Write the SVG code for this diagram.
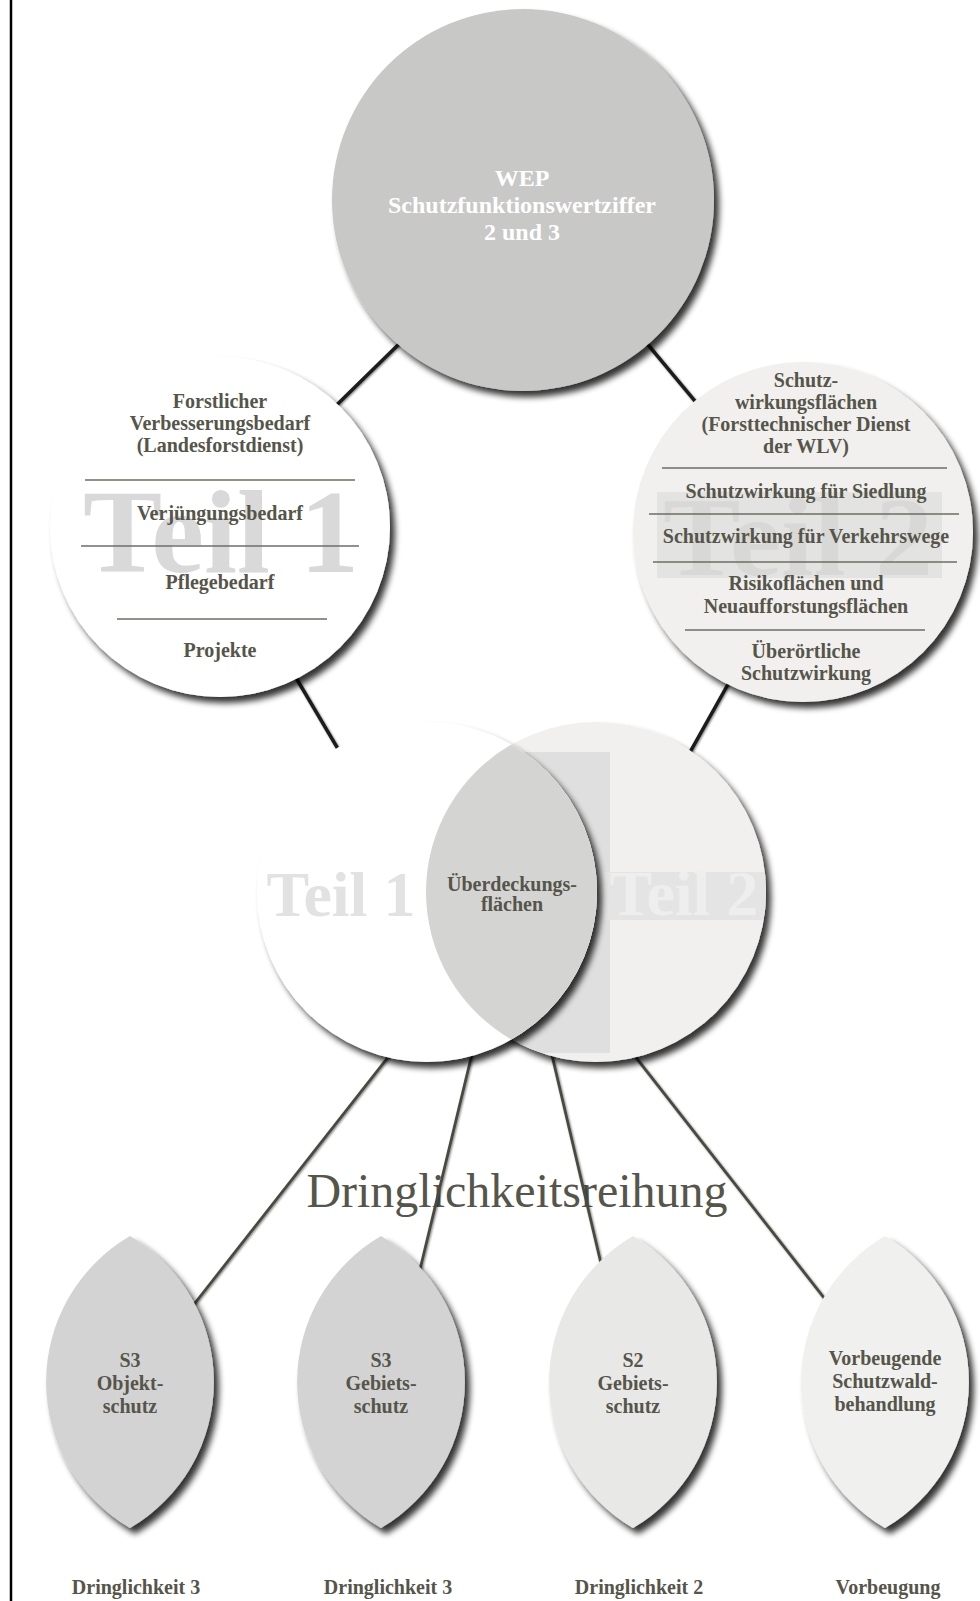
<svg xmlns="http://www.w3.org/2000/svg" width="980" height="1601" viewBox="0 0 980 1601">
<style>
.t{font-family:"Liberation Serif","Times New Roman",serif;font-weight:bold;font-size:20px;fill:#55554a;text-anchor:middle}
.w{fill:#ffffff;font-size:24px}
.wm{font-family:"Liberation Serif","Times New Roman",serif;font-weight:bold;text-anchor:middle}
.sep{stroke:#6e6e63;stroke-width:1.5}
.c1{stroke:#1c1c1c;stroke-width:3.5;stroke-linecap:round}
.c2{stroke:#4a4a40;stroke-width:2.8;stroke-linecap:round}
.big{font-family:"Liberation Serif","Times New Roman",serif;font-size:48px;fill:#55554a;text-anchor:middle}
</style>
<defs>
<filter id="sh" x="-20%" y="-20%" width="150%" height="150%">
<feGaussianBlur in="SourceAlpha" stdDeviation="3"/>
<feOffset dx="5" dy="6" result="b"/>
<feComponentTransfer><feFuncA type="linear" slope="0.8"/></feComponentTransfer>
<feMerge><feMergeNode/><feMergeNode in="SourceGraphic"/></feMerge>
</filter>
<filter id="lsh" x="-20%" y="-20%" width="150%" height="150%">
<feGaussianBlur in="SourceAlpha" stdDeviation="1.2"/>
<feOffset dx="1" dy="1"/>
<feComponentTransfer><feFuncA type="linear" slope="0.5"/></feComponentTransfer>
<feMerge><feMergeNode/><feMergeNode in="SourceGraphic"/></feMerge>
</filter>
<clipPath id="cpL"><circle cx="220" cy="527" r="170"/></clipPath>
<clipPath id="cpR"><circle cx="803" cy="532" r="170"/></clipPath>
<clipPath id="cpVR"><circle cx="596" cy="892" r="170"/></clipPath>
<clipPath id="cpVL"><circle cx="427" cy="892" r="170"/></clipPath>
</defs>

<rect x="0" y="0" width="980" height="1601" fill="#ffffff"/>
<line x1="11" y1="0" x2="11" y2="1601" stroke="#000" stroke-width="2.5"/>

<g id="label-dringlichkeitsreihung">
<text class="big" x="517" y="1207">Dringlichkeitsreihung</text>
</g>

<g id="connectors" filter="url(#lsh)">
<line class="c1" x1="495" y1="250" x2="260" y2="480"/>
<line class="c1" x1="569" y1="250" x2="769" y2="490"/>
<line class="c1" x1="250" y1="600" x2="380" y2="820"/>
<line class="c1" x1="764" y1="620" x2="652" y2="820"/>
<line class="c2" x1="433" y1="1000" x2="166" y2="1340"/>
<line class="c2" x1="485" y1="1000" x2="403" y2="1340"/>
<line class="c2" x1="539" y1="1000" x2="619" y2="1340"/>
<line class="c2" x1="591" y1="1000" x2="857" y2="1340"/>
</g>

<g id="node-wep">
<circle cx="523" cy="200" r="191" fill="#c8c8c7" filter="url(#sh)"/>
<text class="t w" x="522" y="186">WEP</text>
<text class="t w" x="522" y="213">Schutzfunktionswertziffer</text>
<text class="t w" x="522" y="240">2 und 3</text>
</g>

<g id="node-teil1">
<circle cx="220" cy="527" r="170" fill="#ffffff" filter="url(#sh)"/>
<g clip-path="url(#cpL)">
<text class="wm" x="221" y="572" font-size="118" fill="#d9d9d9" textLength="276" lengthAdjust="spacingAndGlyphs">Teil 1</text>
</g>
<text class="t" x="220" y="408">Forstlicher</text>
<text class="t" x="220" y="430">Verbesserungsbedarf</text>
<text class="t" x="220" y="452">(Landesforstdienst)</text>
<line class="sep" x1="85" y1="480" x2="355" y2="480"/>
<text class="t" x="220" y="520">Verjüngungsbedarf</text>
<line class="sep" x1="81" y1="546" x2="359" y2="546"/>
<text class="t" x="220" y="589">Pflegebedarf</text>
<line class="sep" x1="117" y1="619" x2="327" y2="619"/>
<text class="t" x="220" y="657">Projekte</text>
</g>

<g id="node-teil2">
<circle cx="803" cy="532" r="170" fill="#f1f0ee" filter="url(#sh)"/>
<g clip-path="url(#cpR)">
<rect x="657" y="492" width="285" height="86" fill="#e3e3e2"/>
<text class="wm" x="798" y="575" font-size="112" fill="#d8d8d7" textLength="270" lengthAdjust="spacingAndGlyphs">Teil 2</text>
</g>
<text class="t" x="806" y="387">Schutz-</text>
<text class="t" x="806" y="409">wirkungsflächen</text>
<text class="t" x="806" y="431">(Forsttechnischer Dienst</text>
<text class="t" x="806" y="453">der WLV)</text>
<line class="sep" x1="662" y1="468" x2="947" y2="468"/>
<text class="t" x="806" y="498">Schutzwirkung für Siedlung</text>
<line class="sep" x1="649" y1="514" x2="959" y2="514"/>
<text class="t" x="806" y="543">Schutzwirkung für Verkehrswege</text>
<line class="sep" x1="653" y1="562" x2="957" y2="562"/>
<text class="t" x="806" y="590">Risikoflächen und</text>
<text class="t" x="806" y="613">Neuaufforstungsflächen</text>
<line class="sep" x1="685" y1="630" x2="925" y2="630"/>
<text class="t" x="806" y="658">Überörtliche</text>
<text class="t" x="806" y="680">Schutzwirkung</text>
</g>

<g id="node-venn-teil2">
<circle cx="596" cy="892" r="170" fill="#f1f0ee" filter="url(#sh)"/>
<g clip-path="url(#cpVR)">
<rect x="520" y="752" width="90" height="301" fill="#dfdfdf"/>
<rect x="603" y="872" width="165" height="48" fill="#e4e4e4"/>
<text class="wm" x="684" y="915" font-size="64" fill="#eeeeee">Teil 2</text>
</g>
</g>

<g id="node-venn-teil1">
<circle cx="427" cy="892" r="170" fill="#ffffff" filter="url(#sh)"/>
<g clip-path="url(#cpVL)">
<text class="wm" x="341" y="916" font-size="64" fill="#e2e2e2">Teil 1</text>
</g>
</g>

<g id="node-ueberdeckung">
<path d="M511.5,744.5 A170,170 0 0 1 511.5,1039.5 A170,170 0 0 1 511.5,744.5 Z" fill="#d4d4d3"/>
<text class="t" x="512" y="891">Überdeckungs-</text>
<text class="t" x="512" y="911">flächen</text>
</g>

<g id="node-s3-objekt">
<path d="M130,1236 A169,169 0 0 1 130,1528 A169,169 0 0 1 130,1236 Z" fill="#d3d3d3" filter="url(#sh)"/>
<text class="t" x="130" y="1367">S3</text>
<text class="t" x="130" y="1390">Objekt-</text>
<text class="t" x="130" y="1413">schutz</text>
</g>

<g id="node-s3-gebiet">
<path d="M381,1236 A169,169 0 0 1 381,1528 A169,169 0 0 1 381,1236 Z" fill="#d3d3d3" filter="url(#sh)"/>
<text class="t" x="381" y="1367">S3</text>
<text class="t" x="381" y="1390">Gebiets-</text>
<text class="t" x="381" y="1413">schutz</text>
</g>

<g id="node-s2-gebiet">
<path d="M633,1236 A169,169 0 0 1 633,1528 A169,169 0 0 1 633,1236 Z" fill="#e8e8e7" filter="url(#sh)"/>
<text class="t" x="633" y="1367">S2</text>
<text class="t" x="633" y="1390">Gebiets-</text>
<text class="t" x="633" y="1413">schutz</text>
</g>

<g id="node-vorbeugend">
<path d="M885,1236 A169,169 0 0 1 885,1528 A169,169 0 0 1 885,1236 Z" fill="#f0f0ef" filter="url(#sh)"/>
<text class="t" x="885" y="1365">Vorbeugende</text>
<text class="t" x="885" y="1388">Schutzwald-</text>
<text class="t" x="885" y="1411">behandlung</text>
</g>

<g id="labels-bottom">
<text class="t" x="136" y="1594">Dringlichkeit 3</text>
<text class="t" x="388" y="1594">Dringlichkeit 3</text>
<text class="t" x="639" y="1594">Dringlichkeit 2</text>
<text class="t" x="888" y="1594">Vorbeugung</text>
</g>
</svg>
